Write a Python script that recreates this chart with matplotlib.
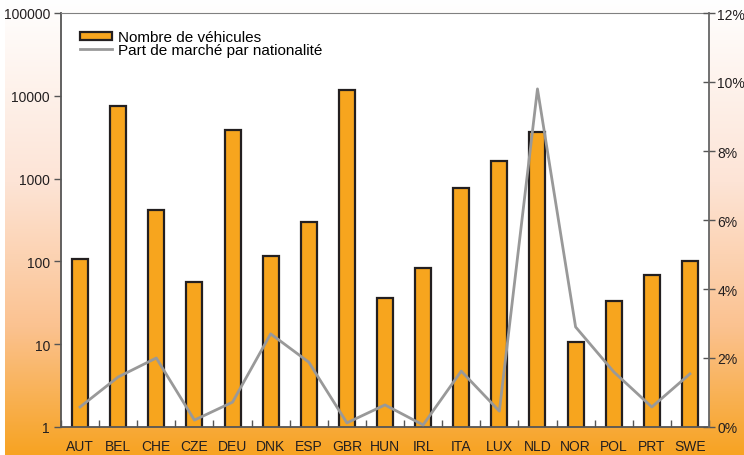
import numpy as np
import matplotlib
matplotlib.use("Agg")
import matplotlib.pyplot as plt
from matplotlib.colors import LinearSegmentedColormap
from matplotlib.ticker import FixedLocator, NullLocator, FuncFormatter

pays = ["AUT", "BEL", "CHE", "CZE", "DEU", "DNK", "ESP", "GBR", "HUN",
        "IRL", "ITA", "LUX", "NLD", "NOR", "POL", "PRT", "SWE"]
vehicules = [108, 7500, 420, 57, 3850, 117, 300, 11700, 36,
             84, 770, 1650, 3650, 10.5, 33, 69, 100]
part_marche = [0.58, 1.45, 2.0, 0.2, 0.72, 2.7, 1.88, 0.12, 0.64,
               0.06, 1.62, 0.46, 9.8, 2.9, 1.6, 0.58, 1.54]

plt.rcParams['font.family'] = ['Liberation Sans', 'DejaVu Sans']

fig = plt.figure(figsize=(7.44, 4.56), dpi=100)

# fond degrade blanc -> orange
fond = fig.add_axes([5 / 744, 0, 1 - 5 / 744, 1], zorder=-10)
cmap = LinearSegmentedColormap.from_list(
    "fond", [(0.0, "#ffffff"), (0.40, "#fde4d6"), (0.72, "#fbc290"), (1.0, "#f7a322")])
grad = np.linspace(0, 1, 256).reshape(-1, 1)
fond.imshow(grad, aspect="auto", cmap=cmap, extent=[0, 1, 1, 0])
fond.set_axis_off()

ax = fig.add_axes([61 / 744, 1 - 428 / 456, 648 / 744, 414 / 456])
ax.set_facecolor("white")
x = np.arange(len(pays))
ax.bar(x, vehicules, width=0.42, color="#f7a51e", edgecolor="#231f20",
       linewidth=1.6, label="Nombre de véhicules", zorder=2)
ax.set_yscale("log")
ax.set_ylim(1, 100000)
ax.set_xlim(-0.5, len(pays) - 0.5)
ax.yaxis.set_major_locator(FixedLocator([1, 10, 100, 1000, 10000, 100000]))
ax.yaxis.set_minor_locator(NullLocator())
ax.yaxis.set_major_formatter(FuncFormatter(lambda v, p: f"{int(v)}"))
ax.set_xticks(x)
ax.set_xticklabels(pays)
ax.xaxis.set_minor_locator(FixedLocator(np.arange(-0.5, len(pays), 1)))
ax.tick_params(axis="x", which="major", length=0, pad=9, labelsize=10, colors="#231f20")
ax.tick_params(axis="x", which="minor", length=5, direction="in", width=1, color="#555555")
ax.tick_params(axis="y", length=5, direction="out", width=1, labelsize=10,
               colors="#555555", labelcolor="#231f20", pad=3)

ax.spines["right"].set_visible(False)
ax.spines["top"].set_color("#808080")
ax.spines["left"].set_color("#555555")
ax.spines["bottom"].set_color("#555555")
ax.spines["left"].set_linewidth(1.3)
ax.spines["bottom"].set_linewidth(1.3)

ax2 = ax.twinx()
ax2.plot(x, part_marche, color="#999999", linewidth=2,
         label="Part de marché par nationalité", zorder=3)
ax2.set_ylim(0, 12)
ax2.set_yticks(np.arange(0, 13, 2))
ax2.yaxis.set_major_formatter(FuncFormatter(lambda v, p: f"{int(v)}%"))
ax2.tick_params(axis="y", length=8, direction="inout", width=1, labelsize=10,
                colors="#555555", labelcolor="#231f20", pad=2)
for s in ["top", "left", "bottom"]:
    ax2.spines[s].set_visible(False)
ax2.spines["right"].set_color("#666666")
ax2.spines["right"].set_linewidth(1.3)

h1, l1 = ax.get_legend_handles_labels()
h2, l2 = ax2.get_legend_handles_labels()
leg = ax2.legend(h1 + h2, l1 + l2, loc="upper left", bbox_to_anchor=(0.029, 0.958),
                 frameon=False, fontsize=11, handlelength=2.1, handleheight=0.5,
                 handletextpad=0.4, labelspacing=-0.1, borderpad=0, borderaxespad=0)

fig.savefig("out.png", dpi=100)
